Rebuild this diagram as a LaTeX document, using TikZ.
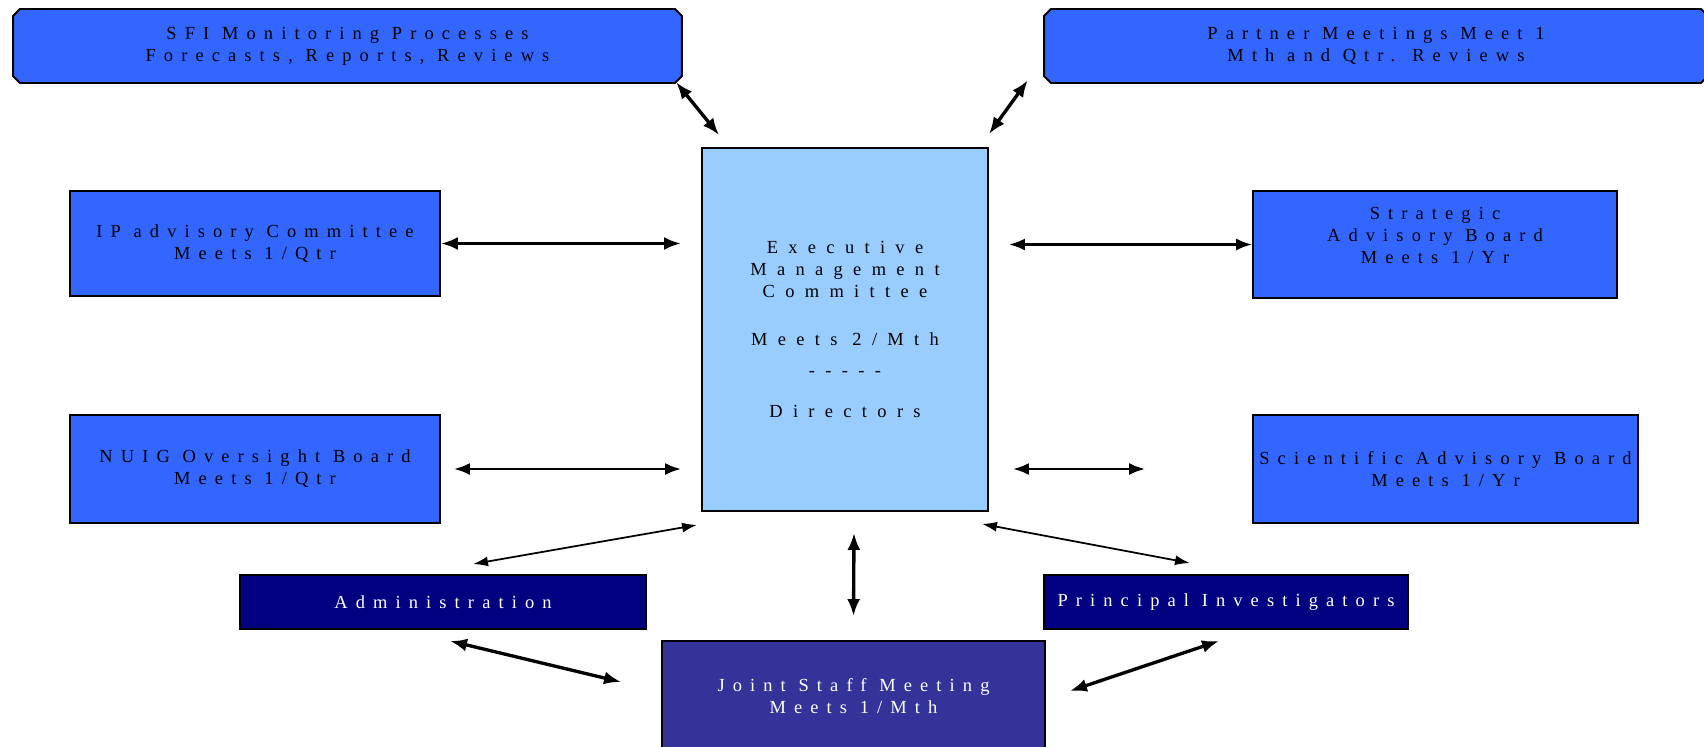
\documentclass[tikz,border=0pt]{standalone}
\usepackage{fontspec}
\setmainfont{Liberation Serif}[LetterSpace=44]
\newfontfamily\execfont{Liberation Serif}[LetterSpace=56]
\usetikzlibrary{arrows.meta,shapes.misc,calc}

\definecolor{boxblue}{RGB}{51,102,255}
\definecolor{execblue}{RGB}{153,204,255}
\definecolor{navy}{RGB}{0,0,128}
\definecolor{jointblue}{RGB}{51,51,153}

\begin{document}
\begin{tikzpicture}[x=0.02cm,y=-0.02cm,
    box/.style={draw=black,line width=1.1pt,fill=boxblue,align=center,
      font=\fontsize{10.5}{12.5}\selectfont,inner sep=0pt},
    topbox/.style={box,chamfered rectangle,chamfered rectangle xsep=0.07cm,
      chamfered rectangle ysep=0.07cm},
    darkbox/.style={box,fill=navy,text=white},
    link/.style={{Latex[length=0.34cm,width=0.26cm]}-{Latex[length=0.34cm,width=0.26cm]},line width=1.9pt},
    midlink/.style={{Latex[length=0.32cm,width=0.24cm]}-{Latex[length=0.32cm,width=0.24cm]},line width=1.4pt},
    thinlink/.style={{Latex[length=0.3cm,width=0.2cm]}-{Latex[length=0.3cm,width=0.2cm]},line width=1pt}]
  \useasboundingbox (0,0) rectangle (1704,747);
  \clip (0,0) rectangle (1704,747);

  % top row
  \node[topbox,minimum width=13.38cm,minimum height=1.48cm] (sfi) at (347.5,46)
    {SFI Monitoring Processes\\Forecasts, Reports, Reviews};
  \node[topbox,minimum width=13.28cm,minimum height=1.48cm] (partner) at (1376,46)
    {Partner Meetings Meet 1\\Mth and Qtr. Reviews};

  % centre
  \node[box,fill=execblue,minimum width=5.72cm,minimum height=7.26cm,
    font=\execfont\fontsize{10.5}{12.5}\selectfont] (exec) at (845,329.5)
    {Executive\\Management\\Committee\\[15pt]Meets 2/Mth\\[5pt]-{}-{}-{}-{}-\\[11pt]Directors};

  % side boards
  \node[box,minimum width=7.4cm,minimum height=2.1cm] (ip) at (255,243.5)
    {IP advisory Committee\\Meets 1/Qtr};
  \node[box,minimum width=7.28cm,minimum height=2.14cm] (strat) at (1435,244.5)
    {Strategic\\Advisory Board\\Meets 1/Yr\\[-2pt]};
  \node[box,minimum width=7.4cm,minimum height=2.16cm] (nuig) at (255,469)
    {NUIG Oversight Board\\Meets 1/Qtr};
  \node[box,minimum width=7.7cm,minimum height=2.16cm] (sci) at (1445.5,469)
    {Scientific Advisory Board\\Meets 1/Yr};

  % staff
  \node[darkbox,minimum width=8.12cm,minimum height=1.08cm] (admin) at (443,602)
    {Administration};
  \node[darkbox,minimum width=7.28cm,minimum height=1.08cm] (pi) at (1226,602)
    {Principal Investigators};
  \node[darkbox,fill=jointblue,minimum width=7.66cm,minimum height=2.2cm] (joint) at (853.5,696)
    {Joint Staff Meeting\\Meets 1/Mth};

  % connectors
  \draw[link] ([shift={(-3,2)}]sfi.south east) -- ([shift={(18,-12)}]exec.north west);
  \draw[link] ([shift={(-19,0)}]partner.south west) -- ([shift={(0,-13)}]exec.north east);
  \draw[link] (ip.east) -- ($(ip.east -| exec.west)+(-20,0)$);
  \draw[midlink] ($(strat.west -| exec.east)+(20,0)$) -- (strat.west);
  \draw[midlink] ($(nuig.east)+(13,0)$) -- ($(nuig.east -| exec.west)+(-20,0)$);
  \draw[midlink] ($(sci.west -| exec.east)+(24,0)$) -- ($(sci.west)+(-107,0)$);
  \draw[thinlink] ([shift={(30,-10)}]admin.north) -- ([shift={(-4,13)}]exec.south west);
  \draw[thinlink] ([shift={(-7,12)}]exec.south east) -- ([shift={(-36,-11)}]pi.north);
  \draw[link] ([shift={(9,21)}]exec.south) -- ([shift={(0,-24)}]joint.north);
  \draw[link] ([shift={(7,11)}]admin.south) -- ([shift={(-40,-14)}]joint.west);
  \draw[link] ([shift={(-7,11)}]pi.south) -- ([shift={(24,-5)}]joint.east);
\end{tikzpicture}
\end{document}
